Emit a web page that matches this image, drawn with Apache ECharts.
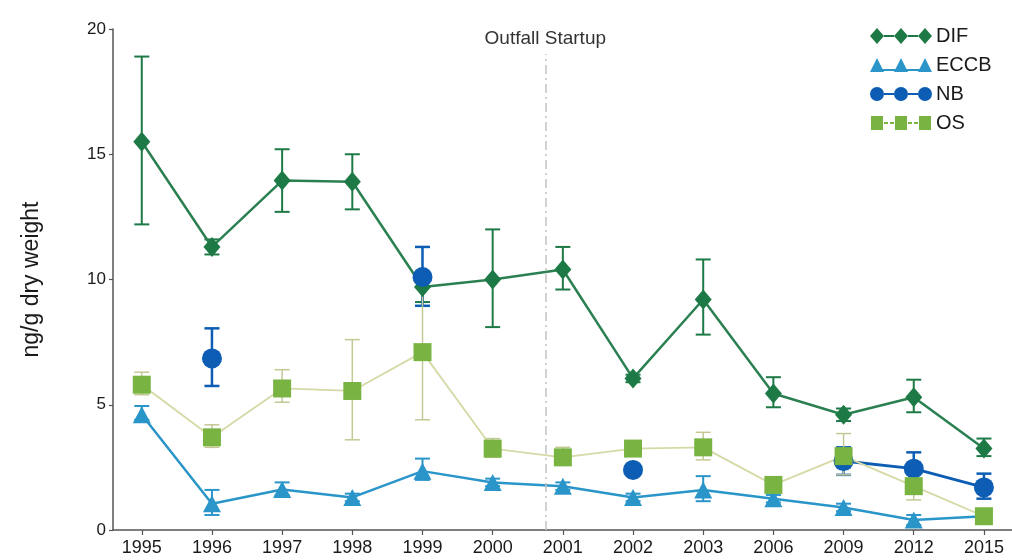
<!DOCTYPE html>
<html>
<head>
<meta charset="utf-8">
<script src="https://cdn.jsdelivr.net/npm/echarts@6/dist/echarts.min.js"></script>
<style>html,body{margin:0;padding:0;background:#fff}#c{width:1012px;height:560px}</style>
</head>
<body>
<div id="c"></div>
<script>
const years = ['1995','1996','1997','1998','1999','2000','2001','2002','2003','2006','2009','2012','2015'];
const yTicks = [0, 5, 10, 15, 20];

const difValues  = [15.5, 11.3, 13.95, 13.9, 9.7, 10.0, 10.4, 6.05, 9.2, 5.45, 4.6, 5.3, 3.25];
const difLow     = [12.2, 11.0, 12.7, 12.8, 9.1, 8.1, 9.6, 5.9, 7.8, 4.9, 4.35, 4.7, 2.95];
const difHigh    = [18.9, 11.6, 15.2, 15.0, 10.3, 12.0, 11.3, 6.2, 10.8, 6.1, 4.85, 6.0, 3.65];

const eccbValues = [4.6, 1.05, 1.62, 1.3, 2.35, 1.9, 1.75, 1.3, 1.6, 1.25, 0.9, 0.4, 0.55];
const eccbLow    = [4.4, 0.6, 1.4, 1.15, 2.0, 1.75, 1.6, 1.15, 1.15, 1.1, 0.75, 0.2, null];
const eccbHigh   = [4.95, 1.6, 1.9, 1.45, 2.85, 2.05, 1.9, 1.45, 2.15, 1.4, 1.05, 0.6, null];

const nbValues   = [null, 6.85, null, null, 10.1, null, null, 2.4, null, null, 2.75, 2.45, 1.7];
const nbLow      = [null, 5.75, null, null, 8.95, null, null, 2.25, null, null, 2.2, 2.0, 1.25];
const nbHigh     = [null, 8.05, null, null, 11.3, null, null, 2.55, null, null, 3.3, 3.1, 2.25];

const osValues   = [5.8, 3.7, 5.65, 5.55, 7.1, 3.25, 2.9, 3.25, 3.3, 1.8, 2.95, 1.75, 0.55];
const osLow      = [5.4, 3.3, 5.1, 3.6, 4.4, 2.9, 2.6, 3.0, 2.8, 1.6, 2.2, 1.2, 0.4];
const osHigh     = [6.3, 4.2, 6.4, 7.6, 9.9, 3.65, 3.3, 3.5, 3.9, 2.0, 3.85, 2.35, 0.7];

const outfallIndex = 5.75;
const outfallTop = 19;
const outfallLabel = 'Outfall Startup';

const FONT = '"Liberation Sans", Arial, sans-serif';
const C = {
  dif: '#1d7a46', eccb: '#2a95c9', nb: '#0c5db3', os: '#79b443',
  osLine: '#d6d9a6', osErr: '#c4c894'
};

function lineData(vals) { return vals.map((v, i) => [i, v == null ? '-' : v]); }
function errData(lo, hi) {
  const out = [];
  lo.forEach((l, i) => { if (l != null && hi[i] != null) out.push([i, l, hi[i]]); });
  return out;
}
function errSeries(name, lo, hi, color, width) {
  return {
    type: 'custom', name: name, silent: true, z: 1,
    data: errData(lo, hi),
    encode: { x: 0, y: [1, 2] },
    renderItem: function (params, api) {
      const x = api.value(0);
      const p1 = api.coord([x, api.value(1)]);
      const p2 = api.coord([x, api.value(2)]);
      const w = 7.5;
      const st = { stroke: color, lineWidth: width };
      return {
        type: 'group',
        children: [
          { type: 'line', shape: { x1: p1[0], y1: p1[1], x2: p2[0], y2: p2[1] }, style: st },
          { type: 'line', shape: { x1: p1[0] - w, y1: p1[1], x2: p1[0] + w, y2: p1[1] }, style: st },
          { type: 'line', shape: { x1: p2[0] - w, y1: p2[1], x2: p2[0] + w, y2: p2[1] }, style: st }
        ]
      };
    }
  };
}

const conn = 'M14 7 L24 7 L24 9 L14 9 Z M38 7 L48 7 L48 9 L38 9 Z ';
const iconDiamond = 'path://M0 8 L7 0 L14 8 L7 16 Z M24 8 L31 0 L38 8 L31 16 Z M48 8 L55 0 L62 8 L55 16 Z ' + conn;
const iconTri = 'path://M0 15 L7 1 L14 15 Z M24 15 L31 1 L38 15 Z M48 15 L55 1 L62 15 Z ' + 'M12 12 L26 12 L26 14 L12 14 Z M36 12 L50 12 L50 14 L36 14 Z M0 0 L0.01 0 L0.01 16 L0 16 Z';
const iconCircle = 'path://M0 8 A7 7 0 1 1 14 8 A7 7 0 1 1 0 8 Z M24 8 A7 7 0 1 1 38 8 A7 7 0 1 1 24 8 Z M48 8 A7 7 0 1 1 62 8 A7 7 0 1 1 48 8 Z ' + conn;
const iconSquare = 'path://M1 1 L13 1 L13 15 L1 15 Z M25 1 L37 1 L37 15 L25 15 Z M49 1 L61 1 L61 15 L49 15 Z M14 7 L18 7 L18 9 L14 9 Z M20 7 L24 7 L24 9 L20 9 Z M38 7 L42 7 L42 9 L38 9 Z M44 7 L48 7 L48 9 L44 9 Z M0 0 L62 0 L62 0.01 L0 0.01 Z M0 16 L62 16 L62 16.01 L0 16.01 Z';

const chart = echarts.init(document.getElementById('c'), null, { renderer: 'canvas' });
chart.setOption({
  animation: false,
  backgroundColor: '#ffffff',
  textStyle: { fontFamily: FONT },
  grid: { left: 113, right: 0, top: 29, bottom: 30, containLabel: false },
  legend: {
    orient: 'vertical', left: 870, top: 26, padding: 0,
    itemWidth: 62, itemHeight: 17, itemGap: 9,
    textStyle: { fontSize: 20, color: '#1a1a1a', fontFamily: FONT, padding: [0, 0, 0, -1] },
    data: [
      { name: 'DIF', icon: iconDiamond },
      { name: 'ECCB', icon: iconTri },
      { name: 'NB', icon: iconCircle },
      { name: 'OS', icon: iconSquare }
    ]
  },
  xAxis: {
    type: 'value', min: -0.41, max: 12.4,
    axisLine: { show: true, onZero: false, lineStyle: { color: '#555', width: 1.5 } },
    axisTick: { show: true, customValues: years.map((y, i) => i), length: 5, lineStyle: { color: '#555', width: 1.2 } },
    axisLabel: {
      customValues: years.map((y, i) => i),
      formatter: v => years[Math.round(v)],
      fontSize: 18, color: '#1a1a1a', margin: 9, fontFamily: FONT
    },
    splitLine: { show: false }
  },
  yAxis: {
    type: 'value', min: 0, max: 20, interval: 5,
    name: 'ng/g dry weight', nameLocation: 'middle', nameGap: 70,
    nameTextStyle: { fontSize: 23, color: '#1a1a1a', fontFamily: FONT },
    axisLine: { show: true, onZero: false, lineStyle: { color: '#555', width: 1.5 } },
    axisTick: { show: true, length: 4, lineStyle: { color: '#555', width: 1.2 } },
    axisLabel: {
      customValues: yTicks,
      fontSize: 17, color: '#1a1a1a', margin: 7, fontFamily: FONT
    },
    splitLine: { show: false }
  },
  series: [
    errSeries('DIF err', difLow, difHigh, C.dif, 2),
    errSeries('ECCB err', eccbLow, eccbHigh, C.eccb, 2),
    errSeries('NB err', nbLow, nbHigh, C.nb, 2.5),
    errSeries('OS err', osLow, osHigh, C.osErr, 1.5),
    {
      name: 'DIF', type: 'line', z: 3, data: lineData(difValues),
      symbol: 'diamond', symbolSize: [17, 20], showSymbol: true,
      lineStyle: { color: '#2b8052', width: 2.5 }, itemStyle: { color: C.dif },
      markLine: {
        silent: true, symbol: 'none',
        lineStyle: { color: '#c2c2c2', width: 1.5, type: [9, 4, 2, 4] },
        label: { show: true, position: 'end', formatter: outfallLabel, fontSize: 19, color: '#333', distance: 6, fontFamily: FONT },
        data: [[{ coord: [outfallIndex, 0] }, { coord: [outfallIndex, outfallTop] }]]
      }
    },
    {
      name: 'ECCB', type: 'line', z: 3, data: lineData(eccbValues),
      symbol: 'triangle', symbolSize: [18, 17], showSymbol: true,
      lineStyle: { color: C.eccb, width: 2.5 }, itemStyle: { color: C.eccb }
    },
    {
      name: 'NB', type: 'line', z: 3, data: lineData(nbValues), connectNulls: false,
      symbol: 'circle', symbolSize: 20, showSymbol: true,
      lineStyle: { color: C.nb, width: 3 }, itemStyle: { color: C.nb }
    },
    {
      name: 'OS', type: 'line', z: 3, data: lineData(osValues),
      symbol: 'rect', symbolSize: [18, 18], showSymbol: true,
      lineStyle: { color: C.osLine, width: 1.8 }, itemStyle: { color: C.os }
    }
  ]
});
</script>
</body>
</html>
